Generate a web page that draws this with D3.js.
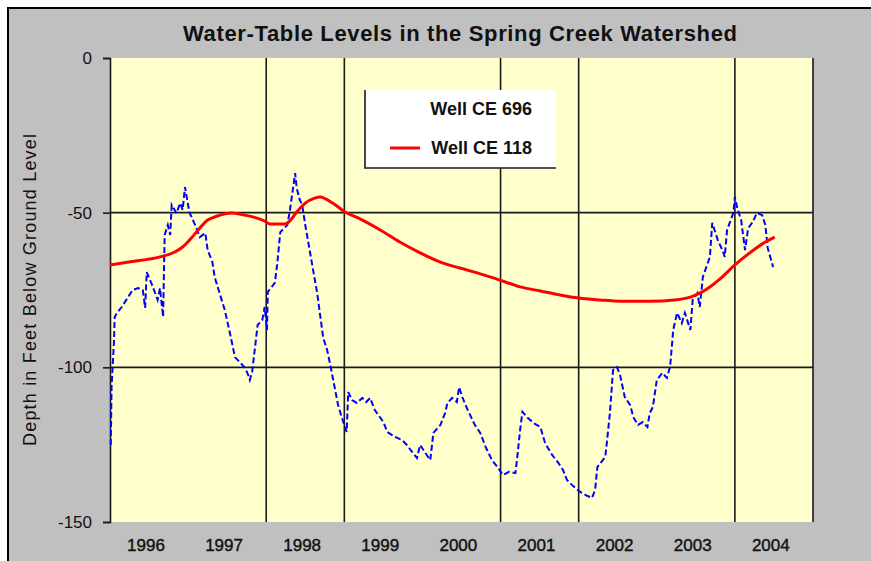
<!DOCTYPE html>
<html>
<head>
<meta charset="utf-8">
<script src="https://cdn.jsdelivr.net/npm/d3@7"></script>
<style>
  body { margin: 0; background: #fff; }
  svg { display: block; font-family: "Liberation Sans", Arial, sans-serif; }
</style>
</head>
<body>
<svg width="871" height="561"></svg>
<script>
// Well CE 696 (blue) - decimal year, depth in feet
var blueYears = [1996.01,1996.02,1996.05,1996.06,1996.09,1996.15,1996.29,1996.36,1996.42,1996.45,1996.47,1996.54,1996.61,1996.64,1996.68,1996.70,1996.74,1996.77,1996.79,1996.85,1996.90,1996.93,1996.96,1997.00,1997.02,1997.09,1997.15,1997.22,1997.25,1997.31,1997.34,1997.41,1997.47,1997.54,1997.60,1997.66,1997.73,1997.77,1997.79,1997.82,1997.86,1997.89,1997.95,1997.98,1998.01,1998.02,1998.11,1998.14,1998.18,1998.27,1998.30,1998.34,1998.37,1998.39,1998.43,1998.46,1998.50,1998.56,1998.60,1998.65,1998.69,1998.73,1998.78,1998.82,1998.87,1998.92,1998.97,1999.03,1999.05,1999.10,1999.16,1999.23,1999.28,1999.33,1999.39,1999.50,1999.55,1999.65,1999.74,1999.80,1999.87,1999.93,1999.97,2000.03,2000.10,2000.14,2000.23,2000.29,2000.32,2000.38,2000.44,2000.47,2000.51,2000.58,2000.67,2000.74,2000.81,2000.89,2000.96,2001.03,2001.11,2001.19,2001.21,2001.25,2001.28,2001.35,2001.44,2001.51,2001.57,2001.66,2001.74,2001.80,2001.85,2001.93,2002.02,2002.09,2002.17,2002.21,2002.24,2002.34,2002.36,2002.40,2002.44,2002.49,2002.53,2002.59,2002.66,2002.70,2002.76,2002.82,2002.88,2002.91,2002.95,2003.00,2003.07,2003.13,2003.17,2003.20,2003.21,2003.26,2003.32,2003.36,2003.43,2003.46,2003.52,2003.55,2003.59,2003.68,2003.71,2003.76,2003.78,2003.84,2003.87,2003.90,2003.98,2004.00,2004.03,2004.08,2004.13,2004.17,2004.23,2004.28,2004.35,2004.39,2004.42,2004.49];
var blueDepth = [-125.1,-106.4,-92.1,-83.7,-82.4,-80.5,-75.0,-74.4,-75.0,-80.8,-69.2,-73.4,-78.2,-74.4,-83.7,-57.2,-54.0,-57.2,-47.5,-50.1,-46.9,-49.1,-41.7,-47.5,-50.1,-54.0,-57.9,-56.6,-62.1,-65.9,-70.8,-76.6,-81.5,-89.5,-96.7,-98.3,-100.2,-102.5,-104.1,-101.5,-92.8,-86.3,-84.7,-80.5,-87.9,-75.6,-72.7,-66.9,-56.3,-54.0,-49.8,-42.7,-37.2,-42.0,-45.9,-47.5,-54.0,-62.7,-68.5,-75.6,-83.1,-90.5,-94.4,-99.2,-105.7,-112.2,-116.4,-120.9,-108.0,-110.6,-111.5,-109.9,-111.2,-109.9,-113.8,-117.7,-120.9,-122.5,-123.5,-125.1,-127.4,-129.3,-125.1,-127.4,-130.0,-121.2,-118.6,-114.8,-111.5,-109.9,-111.2,-106.4,-109.6,-113.8,-118.6,-121.2,-125.8,-130.0,-132.2,-134.8,-133.8,-134.2,-130.0,-120.3,-114.4,-116.4,-118.3,-119.3,-124.5,-128.3,-130.9,-133.2,-136.4,-138.4,-140.3,-141.3,-142.2,-139.7,-132.2,-129.0,-124.5,-114.8,-100.9,-99.9,-102.5,-109.6,-112.2,-116.1,-118.6,-117.7,-119.3,-114.8,-112.8,-104.1,-101.8,-103.4,-99.9,-91.2,-87.9,-82.4,-85.7,-82.4,-87.9,-78.2,-76.0,-80.5,-70.8,-64.3,-53.3,-57.2,-58.8,-62.1,-64.3,-55.6,-50.1,-44.9,-48.5,-52.4,-62.1,-55.0,-53.0,-50.1,-50.8,-54.0,-61.4,-67.6];

// Well CE 118 (red)
var redYears = [1996.00,1996.26,1996.64,1996.83,1996.93,1997.02,1997.15,1997.25,1997.34,1997.47,1997.56,1997.73,1997.98,1998.05,1998.24,1998.30,1998.39,1998.50,1998.62,1998.69,1998.85,1999.01,1999.20,1999.46,1999.71,1999.97,2000.22,2000.48,2000.74,2000.99,2001.25,2001.51,2001.76,2002.00,2002.27,2002.53,2002.91,2003.23,2003.43,2003.55,2003.68,2003.81,2004.00,2004.19,2004.39,2004.51];
var redDepth = [-66.9,-65.9,-64.3,-62.7,-61.1,-58.8,-55.0,-52.4,-51.4,-50.4,-50.1,-50.8,-52.7,-53.7,-53.7,-52.7,-49.8,-46.9,-45.3,-44.9,-46.9,-49.8,-52.0,-55.6,-59.5,-63.0,-65.9,-67.9,-69.8,-71.8,-74.0,-75.3,-76.6,-77.6,-78.2,-78.6,-78.6,-78.2,-77.3,-76.0,-74.0,-71.4,-66.9,-63.0,-59.5,-57.9];

var yearLabels = [1996, 1997, 1998, 1999, 2000, 2001, 2002, 2003, 2004];
var gridYears = [1998, 1999, 2001, 2002, 2004, 2005];
var depthTicks = [0, -50, -100, -150];
var depthGrid = [-50, -100];
var seriesNames = ["Well CE 696", "Well CE 118"];

var svg = d3.select("svg");

// chart background + outer frame
svg.append("rect").attr("x", 8).attr("y", 8).attr("width", 863).attr("height", 553).attr("fill", "#c0c0c0");
svg.append("path").attr("d", "M8,561V8H871").attr("fill", "none").attr("stroke", "#000").attr("stroke-width", 2);

var x = d3.scaleLinear().domain([1996, 2005]).range([110, 813]);
var y = d3.scaleLinear().domain([-150, 0]).range([522, 58]);

svg.append("rect")
  .attr("x", x(1996)).attr("y", y(0))
  .attr("width", x(2005) - x(1996)).attr("height", y(-150) - y(0))
  .attr("fill", "#ffffcc");

// grid
svg.append("g").selectAll("line").data(gridYears).enter().append("line")
  .attr("x1", d => x(d)).attr("x2", d => x(d))
  .attr("y1", y(0)).attr("y2", y(-150))
  .attr("stroke", "#1a1a1a").attr("stroke-width", 1.6);

svg.append("g").selectAll("line").data(depthGrid).enter().append("line")
  .attr("x1", x(1996)).attr("x2", x(2005))
  .attr("y1", d => y(d)).attr("y2", d => y(d))
  .attr("stroke", "#1a1a1a").attr("stroke-width", 1.6);

// y axis
var yAxis = d3.axisLeft(y).tickValues(depthTicks).tickSize(7).tickPadding(11).tickFormat(d => String(d));
var gy = svg.append("g").attr("transform", "translate(" + x(1996) + ",0)").call(yAxis);
gy.select(".domain").attr("stroke", "#1a1a1a").attr("stroke-width", 1.6);
gy.selectAll(".tick line").attr("stroke", "#1a1a1a").attr("stroke-width", 1.6);
gy.selectAll("text").attr("font-size", 17).attr("fill", "#111").attr("font-family", "Liberation Sans, Arial, sans-serif");

// x labels (centred inside each year)
svg.append("g").selectAll("text").data(yearLabels).enter().append("text")
  .attr("x", d => x(d + 0.46)).attr("y", 551)
  .attr("text-anchor", "middle")
  .attr("font-size", 17).attr("fill", "#111")
  .attr("stroke", "#111").attr("stroke-width", 0.4)
  .text(d => d);

// series
var blueLine = d3.line().x((d, i) => x(blueYears[i])).y(d => y(d));
svg.append("path").datum(blueDepth)
  .attr("d", blueLine)
  .attr("fill", "none").attr("stroke", "#0000ff").attr("stroke-width", 2)
  .attr("stroke-dasharray", "6,3");

var redLine = d3.line().x((d, i) => x(redYears[i])).y(d => y(d)).curve(d3.curveMonotoneX);
svg.append("path").datum(redDepth)
  .attr("d", redLine)
  .attr("fill", "none").attr("stroke", "#ff0000").attr("stroke-width", 3);

// titles
svg.append("text").attr("x", 460).attr("y", 41)
  .attr("text-anchor", "middle").attr("font-size", 22).attr("font-weight", "bold").attr("fill", "#111")
  .attr("textLength", 554).attr("lengthAdjust", "spacing")
  .text("Water-Table Levels in the Spring Creek Watershed");

svg.append("text").attr("transform", "translate(36,290) rotate(-90)")
  .attr("text-anchor", "middle").attr("font-size", 18).attr("fill", "#111")
  .attr("textLength", 312).attr("lengthAdjust", "spacing")
  .text("Depth in Feet Below Ground Level");

// legend
var legend = svg.append("g").attr("transform", "translate(365,90)");
legend.append("rect").attr("width", 191).attr("height", 78).attr("fill", "#fff");
legend.append("path").attr("d", "M0,0V78H191").attr("fill", "none").attr("stroke", "#1a1a1a").attr("stroke-width", 1.6);
legend.selectAll("text").data(seriesNames).enter().append("text")
  .attr("x", 167).attr("y", (d, i) => 25 + i * 39)
  .attr("text-anchor", "end").attr("font-size", 18).attr("font-weight", "bold").attr("fill", "#111")
  .text(d => d);
legend.append("line").attr("x1", 25).attr("x2", 55).attr("y1", 58).attr("y2", 58)
  .attr("stroke", "#ff0000").attr("stroke-width", 3);
</script>
</body>
</html>
